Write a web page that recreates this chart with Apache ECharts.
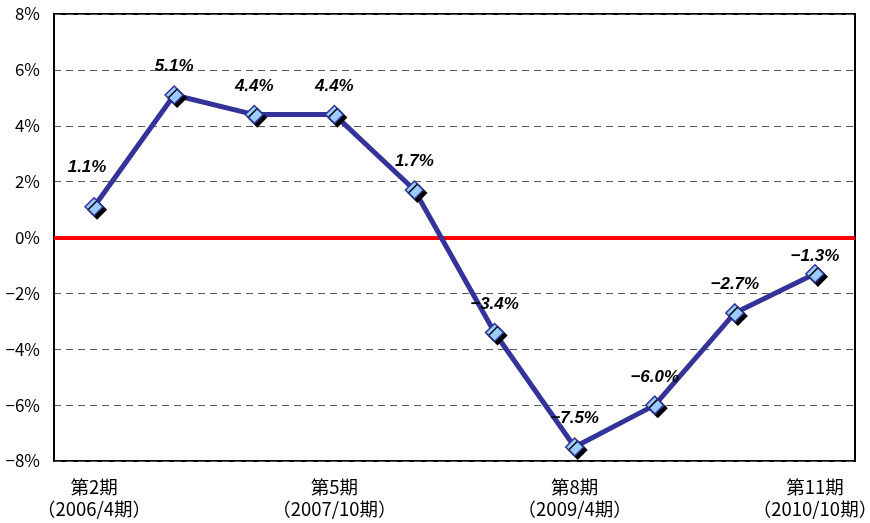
<!DOCTYPE html>
<html>
<head>
<meta charset="utf-8">
<script src="https://cdn.jsdelivr.net/npm/echarts@6/dist/echarts.min.js"></script>
<style>
html,body{margin:0;padding:0;background:#fff;}
#chart{width:870px;height:523px;}
</style>
</head>
<body>
<div id="chart"></div>
<script>
// Period categories (term number and fiscal period)
const periods = ['第2期', '第3期', '第4期', '第5期', '第6期', '第7期', '第8期', '第9期', '第10期', '第11期'];
const fiscal = ['2006/4期', '2006/10期', '2007/4期', '2007/10期', '2008/4期', '2008/10期', '2009/4期', '2009/10期', '2010/4期', '2010/10期'];
// Growth rate (%)
const rates = [1.1, 5.1, 4.4, 4.4, 1.7, -3.4, -7.5, -6.0, -2.7, -1.3];
// Y-axis ticks
const yMin = -8, yMax = 8, yStep = 2;

// Per-point nudges for value labels that sit apart from the rest
const labelNudge = { 0: [-7, -11], 9: [0, 11] };

const chart = echarts.init(document.getElementById('chart'));
const cats = periods.map((p, i) => p + '\n（' + fiscal[i] + '）');
const fmt = v => (v < 0 ? '−' + Math.abs(v).toFixed(1) : v.toFixed(1)) + '%';

const seriesData = rates.map((v, i) => {
  const item = { value: v };
  if (labelNudge[i]) item.label = { offset: labelNudge[i] };
  return item;
});

chart.setOption({
  animation: false,
  grid: {
    left: 54, right: 15, top: 14, bottom: 62,
    containLabel: false,
    outerBoundsMode: 'none',
    show: true, borderColor: '#000', borderWidth: 2, backgroundColor: '#fff'
  },
  xAxis: {
    type: 'category',
    data: cats,
    boundaryGap: true,
    axisLine: { show: true, lineStyle: { color: '#000', width: 2 } },
    axisTick: { show: false },
    axisLabel: {
      interval: 2,
      color: '#000',
      fontFamily: 'Noto Sans CJK JP',
      fontSize: 18.5,
      lineHeight: 22,
      margin: 15
    }
  },
  yAxis: {
    type: 'value',
    min: yMin, max: yMax, interval: yStep,
    axisLine: { show: true, lineStyle: { color: '#000', width: 2 } },
    axisTick: { show: false },
    axisLabel: {
      color: '#000',
      fontFamily: 'Noto Sans CJK JP',
      fontSize: 17,
      margin: 14,
      formatter: v => (v < 0 ? '−' + Math.abs(v) : v) + '%'
    },
    splitLine: { show: true, lineStyle: { color: '#555', type: [7, 5], width: 1 } }
  },
  series: [{
    type: 'line',
    data: seriesData,
    symbol: 'diamond',
    symbolSize: 18,
    lineStyle: { color: '#333399', width: 5 },
    itemStyle: {
      color: '#99CCFF',
      borderColor: '#333399',
      borderWidth: 1.5,
      shadowColor: '#000',
      shadowBlur: 0,
      shadowOffsetX: 3,
      shadowOffsetY: 3
    },
    label: {
      show: true,
      position: 'top',
      distance: 10,
      color: '#000',
      fontFamily: 'Liberation Sans',
      fontStyle: 'italic',
      fontWeight: 'bold',
      fontSize: 17,
      formatter: p => fmt(p.value)
    },
    z: 3,
    markLine: {
      silent: true,
      symbol: 'none',
      label: { show: false },
      lineStyle: { color: '#FF0000', width: 4, type: 'solid' },
      data: [{ yAxis: 0 }],
      z: 1
    }
  }]
});
</script>
</body>
</html>
